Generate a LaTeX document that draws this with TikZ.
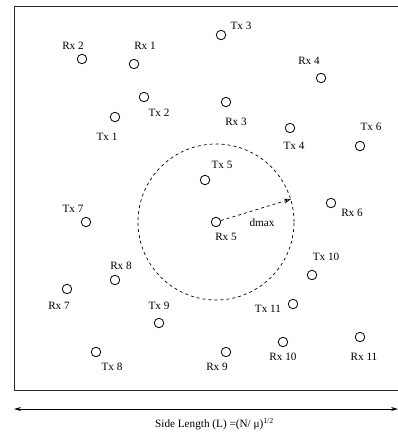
\documentclass[tikz,border=0pt]{standalone}
\usepackage{fontspec}
\setmainfont{Liberation Serif}
\usetikzlibrary{arrows.meta}
\begin{document}
\begin{tikzpicture}[x=1pt,y=-1pt,
  station/.style={circle,draw,line width=0.8pt,inner sep=0pt,minimum size=9.5pt},
  lbl/.style={inner sep=0pt,font=\fontsize{11.2}{13}\selectfont},
  rangecircle/.style={circle,draw,line width=0.7pt,dash pattern=on 3pt off 3pt,inner sep=0pt,minimum size=156pt},
  frame/.style={line width=1pt,draw=black!85}]
\useasboundingbox (0,0) rectangle (398,434);

% deployment area
\draw[frame] (14.5,6) rectangle (402,390);

% stations
\node[station] (rx1) at (134,64) {};
\node[station] (rx2) at (82,59) {};
\node[station] (rx3) at (226,102) {};
\node[station] (rx4) at (321,78) {};
\node[station] (rx5) at (216,222) {};
\node[station] (rx6) at (331,203) {};
\node[station] (rx7) at (67,289) {};
\node[station] (rx8) at (115,280) {};
\node[station] (rx9) at (226,352) {};
\node[station] (rx10) at (283,342) {};
\node[station] (rx11) at (360,337) {};
\node[station] (tx1) at (115,117) {};
\node[station] (tx2) at (144,97) {};
\node[station] (tx3) at (221,35) {};
\node[station] (tx4) at (290,128) {};
\node[station] (tx5) at (205,180) {};
\node[station] (tx6) at (360,146) {};
\node[station] (tx7) at (86,222) {};
\node[station] (tx8) at (96,352) {};
\node[station] (tx9) at (159,323) {};
\node[station] (tx10) at (312,275) {};
\node[station] (tx11) at (293,304) {};

% station labels
\node[lbl] (lrx1) at (145,46) {Rx 1};
\node[lbl] (lrx2) at (73,46) {Rx 2};
\node[lbl] (lrx3) at (236,122) {Rx 3};
\node[lbl] (lrx4) at (309,61) {Rx 4};
\node[lbl] (lrx5) at (226,237) {Rx 5};
\node[lbl] (lrx6) at (352,213) {Rx 6};
\node[lbl] (lrx7) at (59,306) {Rx 7};
\node[lbl] (lrx8) at (121,266) {Rx 8};
\node[lbl] (lrx9) at (217,367) {Rx 9};
\node[lbl] (lrx10) at (283,357) {Rx 10};
\node[lbl] (lrx11) at (364,357) {Rx 11};
\node[lbl] (ltx1) at (107,137) {Tx 1};
\node[lbl] (ltx2) at (159,113) {Tx 2};
\node[lbl] (ltx3) at (241,26) {Tx 3};
\node[lbl] (ltx4) at (294,146) {Tx 4};
\node[lbl] (ltx5) at (222,165) {Tx 5};
\node[lbl] (ltx6) at (371,127) {Tx 6};
\node[lbl] (ltx7) at (73,209) {Tx 7};
\node[lbl] (ltx8) at (112,367) {Tx 8};
\node[lbl] (ltx9) at (159,306) {Tx 9};
\node[lbl] (ltx10) at (326,257) {Tx 10};
\node[lbl] (ltx11) at (268,309) {Tx 11};

% interference range around Rx 5
\node[rangecircle] (range) at (rx5) {};
\draw[line width=0.7pt,dash pattern=on 3pt off 3pt,-{Stealth[length=7pt,width=5pt,open]}] (rx5) -- (range.17.5);
\node[lbl] (dmax) at (262,223) {dmax};

% side length
\coordinate (sl) at (14,409);
\coordinate (sr) at (398,409);
\draw[line width=0.7pt,{Stealth[length=7pt,width=4pt]}-{Stealth[length=7pt,width=4pt]}] (sl) -- (sr);
\node[lbl] (side) at (214.5,424) {Side Length (L) =(N/ μ)\textsuperscript{1/2}};
\end{tikzpicture}
\end{document}
